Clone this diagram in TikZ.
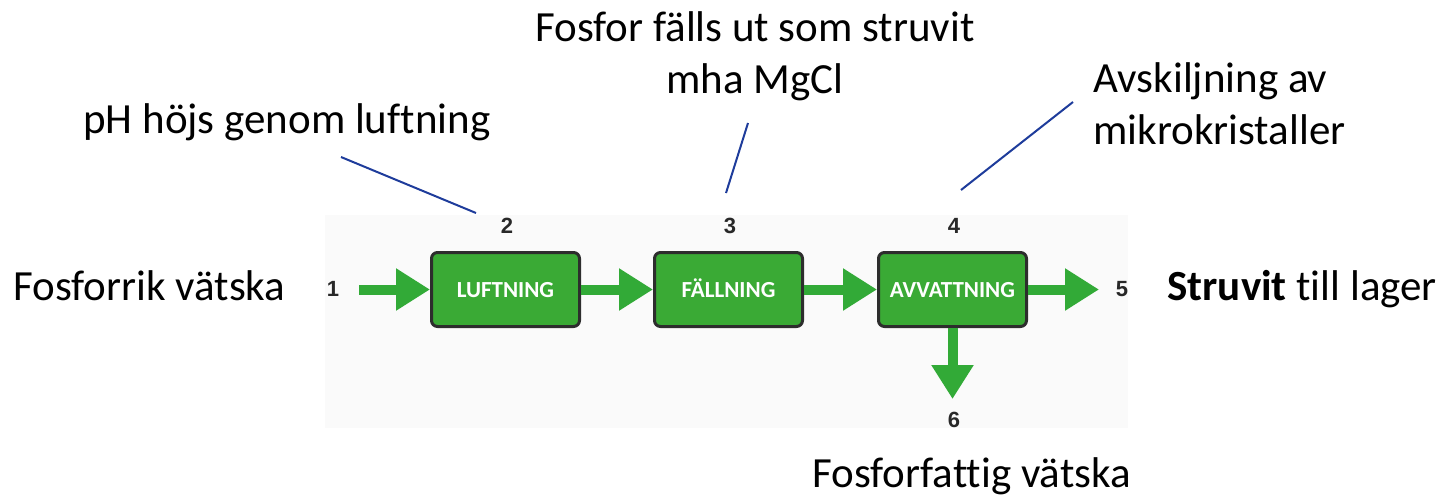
\documentclass[tikz,border=0pt]{standalone}
\usepackage{fontspec}
\setmainfont[Ligatures=NoCommon]{Carlito}
\newfontfamily\numfont{Liberation Sans}
\usetikzlibrary{arrows.meta}
\definecolor{boxgreen}{RGB}{58,170,53}
\definecolor{arrgreen}{RGB}{50,170,55}
\definecolor{boxedge}{RGB}{45,45,45}
\definecolor{bggrey}{RGB}{250,250,250}
\definecolor{leader}{RGB}{30,60,155}
\definecolor{numgrey}{RGB}{40,40,40}
\tikzset{
  stepbox/.style={draw=boxedge, line width=1.5pt, fill=boxgreen, rounded corners=3pt,
    minimum width=74pt, minimum height=37pt, inner sep=0pt,
    text height=8pt, text depth=0pt,
    text=white, font=\fontsize{11.5}{13}\selectfont\bfseries},
  flow/.style={draw=arrgreen, line width=5pt, -{Triangle[width=20pt,length=17pt]}},
  num/.style={text=numgrey, font=\numfont\fontsize{11}{12}\selectfont\bfseries, inner sep=0pt},
  label/.style={font=\fontsize{21.5}{26}\selectfont, inner sep=0pt},
  leaderline/.style={draw=leader, line width=1pt},
}
\begin{document}
\begin{tikzpicture}[x=0.5pt,y=-0.5pt]
\useasboundingbox (0,0) rectangle (1439,499);
\fill[bggrey] (325,215) rectangle (1128,428);
% boxes
\node[stepbox] (b1) at (505.5,289.5) {LUFTNING};
\node[stepbox] (b2) at (728.5,289.5) {FÄLLNING};
\node[stepbox] (b3) at (952.5,289.5) {AVVATTNING};
% numbers
\node[num] (n1) at (333,289) {1};
\node[num] (n2) at (507,226) {2};
\node[num] (n3) at (730,226) {3};
\node[num] (n4) at (954,226) {4};
\node[num] (n5) at (1122,289) {5};
\node[num] (n6) at (954,420) {6};
% arrow endpoints
\coordinate (c1) at (359,289.5);
\coordinate (c5) at (1099,289.5);
\coordinate (c6) at (952.5,399);
\draw[flow] (c1) -- (b1.west);
\draw[flow] (b1.east) -- (b2.west);
\draw[flow] (b2.east) -- (b3.west);
\draw[flow] (b3.east) -- (c5);
\draw[flow] (b3.south) -- (c6);
% labels
\node[label, anchor=base west] (tin) at (13,300) {Fosforrik vätska};
\node[label, anchor=base west] (tout) at (1167,300) {\textbf{Struvit} till lager};
\node[label, anchor=base west] (tlow) at (812,487) {Fosforfattig vätska};
\node[label, anchor=base west] (t2) at (83,133) {pH höjs genom luftning};
\node[label, anchor=north, align=center] (t3) at (755,11) {Fosfor fälls ut som struvit\\mha MgCl};
\node[label, anchor=north west, align=left] (t4) at (1093,62) {Avskiljning av\\mikrokristaller};
% leader lines
\coordinate (l2a) at (341,157);
\coordinate (l2b) at (476,213);
\coordinate (l3a) at (748,123);
\coordinate (l3b) at (726,193);
\coordinate (l4a) at (1073,102);
\coordinate (l4b) at (961,190);
\draw[leaderline] (l2a) -- (l2b);
\draw[leaderline] (l3a) -- (l3b);
\draw[leaderline] (l4a) -- (l4b);
\end{tikzpicture}
\end{document}
